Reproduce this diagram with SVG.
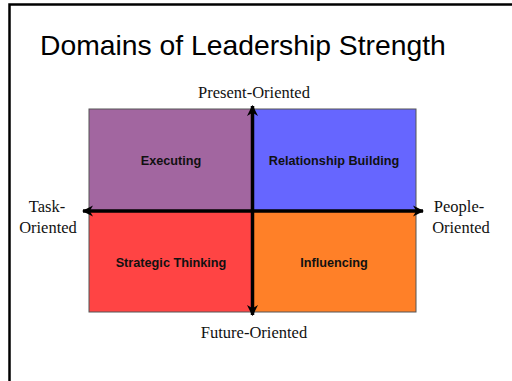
<svg xmlns="http://www.w3.org/2000/svg" width="512" height="381" viewBox="0 0 512 381">
<defs>
<marker id="ah" viewBox="0 0 10 10" refX="9" refY="5" markerWidth="3.2" markerHeight="3.2" orient="auto-start-reverse" markerUnits="strokeWidth">
<path d="M0,0 L10,5 L0,10 L3,5 Z" fill="#000"/>
</marker>
<style>
.quad{stroke:#555;stroke-width:1}
.ql{font-family:"Liberation Sans",Arial,sans-serif;font-weight:bold;font-size:12.7px;fill:#111;text-anchor:middle}
.al{font-family:"Liberation Serif","Times New Roman",serif;font-size:16.5px;fill:#111;text-anchor:middle}
.axis{stroke:#000;stroke-width:3.5;fill:none}
</style>
</defs>
<rect width="512" height="381" fill="#fff"/>
<path d="M9.5,381 V4.5 H512" fill="none" stroke="#000" stroke-width="2.5"/>
<text x="40" y="55" font-family="'Liberation Sans',Arial,sans-serif" font-size="28.3" fill="#000">Domains of Leadership Strength</text>
<g id="executing"><rect class="quad" x="89" y="109" width="164" height="102" fill="#A266A0"/><text class="ql" x="171" y="165">Executing</text></g>
<g id="relationship"><rect class="quad" x="253" y="109" width="163" height="102" fill="#6666FF"/><text class="ql" x="334" y="165">Relationship Building</text></g>
<g id="strategic"><rect class="quad" x="89" y="211" width="164" height="101" fill="#FF4444"/><text class="ql" x="171" y="267">Strategic Thinking</text></g>
<g id="influencing"><rect class="quad" x="253" y="211" width="163" height="101" fill="#FF8028"/><text class="ql" x="334" y="267">Influencing</text></g>
<g id="connectors">
<line class="axis" x1="83" y1="211" x2="423" y2="211" marker-start="url(#ah)" marker-end="url(#ah)"/>
<line class="axis" x1="252.5" y1="106" x2="252.5" y2="315" marker-start="url(#ah)" marker-end="url(#ah)"/>
</g>
<g id="labels">
<text class="al" x="254" y="98">Present-Oriented</text>
<text class="al" x="254" y="338">Future-Oriented</text>
<text class="al" x="47" y="212">Task-</text>
<text class="al" x="48" y="233">Oriented</text>
<text class="al" x="459" y="212">People-</text>
<text class="al" x="461" y="233">Oriented</text>
</g>
</svg>
